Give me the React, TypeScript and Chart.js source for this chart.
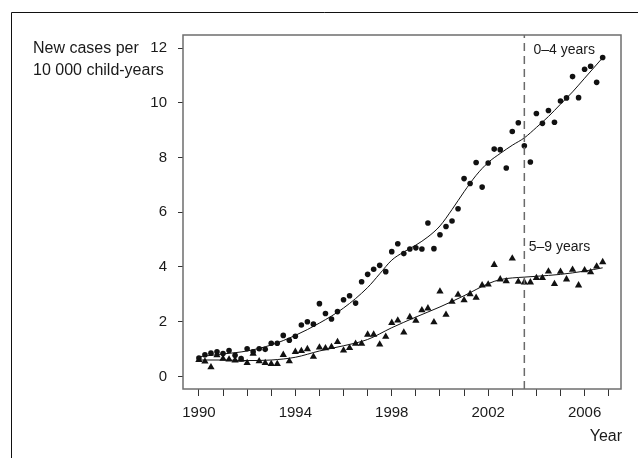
import React, { useEffect, useRef } from "react";
import { Chart, registerables } from "chart.js";

Chart.register(...registerables);

// Observation years (quarterly observations within each year)
const YEARS = [1990, 1991, 1992, 1993, 1994, 1995, 1996, 1997, 1998, 1999, 2000, 2001, 2002, 2003, 2004, 2005, 2006];
const QUARTERS = [0, 0.25, 0.5, 0.75];

// New cases per 10 000 child-years, 0–4 years (quarterly)
const CASES_0_4 = [
  0.67, 0.79, 0.85, 0.9,
  0.84, 0.95, 0.77, 0.65,
  1.01, 0.9, 1.01, 0.99,
  1.21, 1.21, 1.5, 1.32,
  1.47, 1.88, 2.0, 1.91,
  2.66, 2.3, 2.1, 2.37,
  2.8, 2.95, 2.68, 3.46,
  3.73, 3.92, 4.06, 3.83,
  4.56, 4.85, 4.49, 4.66,
  4.7, 4.66, 5.61, 4.67,
  5.18, 5.48, 5.68, 6.13,
  7.23, 7.05, 7.82, 6.92,
  7.8, 8.31, 8.29, 7.62,
  8.95, 9.27, 8.43, 7.84,
  9.61, 9.25, 9.72, 9.29,
  10.07, 10.18, 10.96, 10.19,
  11.23, 11.34, 10.75, 11.66,
];

// New cases per 10 000 child-years, 5–9 years (quarterly)
const CASES_5_9 = [
  0.6, 0.55, 0.34, 0.78,
  0.65, 0.62, 0.59, 0.61,
  0.49, 0.83, 0.56, 0.49,
  0.46, 0.46, 0.79, 0.56,
  0.9, 0.93, 1.0, 0.72,
  1.06, 1.03, 1.08, 1.26,
  0.95, 1.04, 1.2, 1.2,
  1.53, 1.53, 1.17, 1.45,
  1.96, 2.05, 1.61, 2.17,
  2.04, 2.42, 2.49, 1.98,
  3.11, 2.26, 2.73, 2.99,
  2.79, 3.01, 2.88, 3.33,
  3.36, 4.08, 3.55, 3.48,
  4.31, 3.46, 3.44, 3.44,
  3.6, 3.6, 3.84, 3.38,
  3.83, 3.55, 3.9, 3.33,
  3.88, 3.81, 4.02, 4.18,
];

// Smoothed trend, 0–4 years
const SMOOTH_YEARS_0_4 = [1990, 1991, 1992, 1993, 1994, 1995, 1996, 1997, 1997.5, 1998, 1998.5, 1999, 1999.5, 2000, 2000.5, 2001, 2001.5, 2002, 2002.5, 2003, 2003.5, 2004, 2004.5, 2005, 2005.5, 2006, 2006.75];
const SMOOTH_0_4 = [0.72, 0.82, 0.93, 1.15, 1.5, 1.95, 2.5, 3.25, 3.75, 4.25, 4.55, 4.8, 5.1, 5.5, 6.1, 6.75, 7.35, 7.82, 8.15, 8.45, 8.72, 9.1, 9.5, 9.95, 10.4, 10.9, 11.65];

// Smoothed trend, 5–9 years
const SMOOTH_YEARS_5_9 = [1990, 1991, 1992, 1993, 1994, 1995, 1996, 1997, 1998, 1999, 2000, 2001, 2002, 2002.5, 2003, 2003.5, 2004, 2005, 2006, 2006.75];
const SMOOTH_5_9 = [0.6, 0.6, 0.58, 0.6, 0.7, 0.93, 1.12, 1.35, 1.78, 2.17, 2.54, 2.95, 3.39, 3.54, 3.6, 3.63, 3.66, 3.73, 3.85, 3.97];

const CUTOFF_YEAR = 2003.5;
const X_TICKS = [1990, 1991, 1992, 1993, 1994, 1995, 1996, 1997, 1998, 1999, 2000, 2001, 2002, 2003, 2004, 2005, 2006, 2007];
const X_LABELLED = [1990, 1994, 1998, 2002, 2006];
const Y_TICKS = [0, 2, 4, 6, 8, 10, 12];
const X_MIN = 1989.34;
const X_MAX = 2007.51;
const Y_MIN = -0.46;
const Y_MAX = 12.48;

const LABEL_0_4 = { text: "0–4 years", x: 2003.88, y: 11.93 };
const LABEL_5_9 = { text: "5–9 years", x: 2003.68, y: 4.73 };
const Y_TITLE = ["New cases per", "10 000 child-years"];
const X_TITLE = "Year";

const FONT = '"Liberation Sans", Arial, sans-serif';
const INK = "#1a1a1a";

function toPoints(values: number[]) {
  const pts: { x: number; y: number }[] = [];
  YEARS.forEach((yr, i) => {
    QUARTERS.forEach((q, j) => {
      const v = values[i * 4 + j];
      if (v !== undefined) pts.push({ x: yr + q, y: v });
    });
  });
  return pts;
}

function pair(xs: number[], ys: number[]) {
  return xs.map((x, i) => ({ x, y: ys[i] }));
}

const decorPlugin = {
  id: "decor",
  beforeDraw(chart: any) {
    const ctx = chart.ctx;
    ctx.save();
    ctx.fillStyle = "#ffffff";
    ctx.fillRect(0, 0, chart.width, chart.height);
    ctx.strokeStyle = "#111";
    ctx.lineWidth = 1;
    ctx.beginPath();
    ctx.moveTo(11.5, chart.height);
    ctx.lineTo(11.5, 12.5);
    ctx.lineTo(chart.width, 12.5);
    ctx.stroke();
    ctx.restore();
  },
  afterDraw(chart: any) {
    const ctx = chart.ctx;
    const a = chart.chartArea;
    const xs = chart.scales.x;
    const ys = chart.scales.y;
    ctx.save();
    ctx.strokeStyle = "#6e6e6e";
    ctx.lineWidth = 1.5;
    ctx.strokeRect(a.left, a.top, a.right - a.left, a.bottom - a.top);

    ctx.fillStyle = INK;
    ctx.textBaseline = "middle";
    ctx.textAlign = "left";
    ctx.font = `16px ${FONT}`;
    const y12 = ys.getPixelForValue(12);
    ctx.fillText(Y_TITLE[0], 33, y12);
    ctx.fillText(Y_TITLE[1], 33, y12 + 22);

    ctx.font = `14px ${FONT}`;
    ctx.fillText(LABEL_0_4.text, xs.getPixelForValue(LABEL_0_4.x), ys.getPixelForValue(LABEL_0_4.y));
    ctx.fillText(LABEL_5_9.text, xs.getPixelForValue(LABEL_5_9.x), ys.getPixelForValue(LABEL_5_9.y));

    ctx.font = `16px ${FONT}`;
    ctx.textAlign = "right";
    ctx.fillText(X_TITLE, a.right + 1, a.bottom + 48);
    ctx.restore();
  },
};

export default function App() {
  const ref = useRef<HTMLCanvasElement | null>(null);

  useEffect(() => {
    if (!ref.current) return;
    const chart = new Chart(ref.current, {
      type: "scatter",
      data: {
        datasets: [
          {
            label: "cutoff",
            data: [
              { x: CUTOFF_YEAR, y: Y_MIN },
              { x: CUTOFF_YEAR, y: Y_MAX },
            ],
            showLine: true,
            borderColor: "#6a6a6a",
            borderWidth: 1.5,
            borderDash: [8, 5],
            pointRadius: 0,
          },
          {
            label: "trend 0–4",
            data: pair(SMOOTH_YEARS_0_4, SMOOTH_0_4),
            showLine: true,
            borderColor: "#111",
            borderWidth: 1,
            pointRadius: 0,
            cubicInterpolationMode: "monotone",
          },
          {
            label: "trend 5–9",
            data: pair(SMOOTH_YEARS_5_9, SMOOTH_5_9),
            showLine: true,
            borderColor: "#111",
            borderWidth: 1,
            pointRadius: 0,
            cubicInterpolationMode: "monotone",
          },
          {
            label: "0–4 years",
            data: toPoints(CASES_0_4),
            pointStyle: "circle",
            pointRadius: 2.8,
            backgroundColor: "#111",
            borderColor: "#111",
            borderWidth: 0,
          },
          {
            label: "5–9 years",
            data: toPoints(CASES_5_9),
            pointStyle: "triangle",
            pointRadius: 4.2,
            backgroundColor: "#111",
            borderColor: "#111",
            borderWidth: 0,
          },
        ],
      },
      options: {
        animation: false,
        responsive: false,
        events: [],
        layout: { padding: { left: 0, top: 35, right: 17, bottom: 0 } },
        plugins: {
          legend: { display: false },
          tooltip: { enabled: false },
          title: { display: false },
        },
        scales: {
          x: {
            type: "linear",
            min: X_MIN,
            max: X_MAX,
            afterBuildTicks: (scale: any) => {
              scale.ticks = X_TICKS.map((v) => ({ value: v }));
            },
            afterFit: (scale: any) => {
              scale.height = 69;
            },
            border: { display: false },
            grid: {
              drawOnChartArea: false,
              drawTicks: true,
              tickLength: 7,
              color: "#333",
              lineWidth: 1,
            },
            ticks: {
              autoSkip: false,
              maxRotation: 0,
              padding: 8,
              color: INK,
              font: { family: FONT, size: 15 },
              callback: (v: any) => (X_LABELLED.includes(Number(v)) ? String(v) : ""),
            },
          },
          y: {
            type: "linear",
            min: Y_MIN,
            max: Y_MAX,
            afterBuildTicks: (scale: any) => {
              scale.ticks = Y_TICKS.map((v) => ({ value: v }));
            },
            afterFit: (scale: any) => {
              scale.width = 183;
            },
            border: { display: false },
            grid: {
              drawOnChartArea: false,
              drawTicks: true,
              tickLength: 5,
              color: "#333",
              lineWidth: 1,
            },
            ticks: {
              padding: 11,
              color: INK,
              font: { family: FONT, size: 15 },
              callback: (v: any) => String(v),
            },
          },
        },
      },
      plugins: [decorPlugin],
    } as any);
    return () => chart.destroy();
  }, []);

  return (
    <div style={{ position: "fixed", left: 0, top: 0, width: 638, height: 458, background: "#fff" }}>
      <canvas ref={ref} width={638} height={458} style={{ width: 638, height: 458, display: "block" }} />
    </div>
  );
}
